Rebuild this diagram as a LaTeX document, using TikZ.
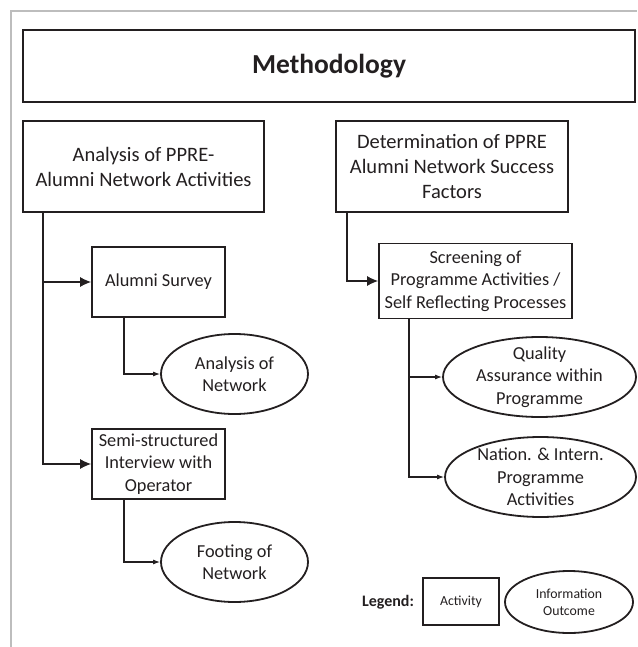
\documentclass[tikz,border=0pt]{standalone}
\usepackage{fontspec}
\setmainfont{Carlito}
\usetikzlibrary{shapes.geometric,arrows.meta}
\definecolor{ink}{HTML}{231F20}
\definecolor{framegray}{HTML}{BDBDBD}
\begin{document}
\begin{tikzpicture}[x=1pt,y=-1pt,
  activity/.style={draw=ink, line width=1.8pt, rectangle, inner sep=0pt, align=center, text=ink},
  outcome/.style={draw=ink, line width=1.8pt, ellipse, inner sep=0pt},
  otext/.style={align=center, text=ink, inner sep=0pt, font=\fontsize{18.3}{22.3}\selectfont},
  big/.style={font=\fontsize{20.5}{25}\selectfont},
  small/.style={font=\fontsize{18.3}{22.3}\selectfont},
  conn/.style={draw=ink, line width=1.1pt},
  bigarrow/.style={-{Latex[length=11pt,width=10pt]}},
  smallarrow/.style={-{Latex[length=7pt,width=5pt]}}]
\useasboundingbox (0,0) rectangle (637,647);
% outer frame
\draw[framegray, line width=2pt] (11,647) -- (11,11) -- (637,11);
% title
\node[activity, minimum width=612pt, minimum height=72pt, font=\fontsize{27.5}{33}\selectfont\bfseries] (meth) at (329,66) {Methodology};
% top boxes
\node[activity, big, minimum width=241pt, minimum height=91pt] (ana) at (143.5,166.5) {Analysis of PPRE-\\Alumni Network Activities};
\node[activity, big, minimum width=232pt, minimum height=91pt] (det) at (452,166.5) {Determination of PPRE\\Alumni Network Success\\Factors};
% left branch
\node[activity, small, minimum width=133pt, minimum height=70pt] (surv) at (158.5,282) {Alumni Survey};
\node[outcome, minimum width=147pt, minimum height=80pt] (anet) at (234.5,374) {};
\node[otext] (anett) at (234.5,374) {Analysis of\\Network};
\node[activity, small, minimum width=133pt, minimum height=70pt] (semi) at (158.5,464) {Semi-structured\\Interview with\\Operator};
\node[outcome, minimum width=147pt, minimum height=80pt] (foot) at (234.5,562) {};
\node[otext] (foott) at (234.5,562) {Footing of\\Network};
% right branch
\node[activity, small, minimum width=193pt, minimum height=75pt] (scr) at (475.5,281) {Screening of\\Programme Activities /\\Self Reflecting Processes};
\node[outcome, minimum width=193pt, minimum height=80pt] (qual) at (539.5,377) {};
\node[otext] (qualt) at (539.5,377) {Quality\\Assurance within\\Programme};
\node[outcome, minimum width=191pt, minimum height=80pt] (nat) at (540.5,477) {};
\node[otext] (natt) at (540.5,477) {Nation. \& Intern.\\Programme\\Activities};
% legend
\node[text=ink, font=\fontsize{16}{19}\selectfont\bfseries] (legt) at (388,602) {Legend:};
\node[activity, minimum width=76pt, minimum height=47pt, font=\fontsize{13.8}{16.8}\selectfont] (act) at (461,601.5) {Activity};
\node[outcome, minimum width=128pt, minimum height=62pt] (info) at (569,602) {};
\node[otext, font=\fontsize{13.8}{16.8}\selectfont] (infot) at (569,602) {Information\\Outcome};
% connector x positions
\coordinate (lx) at (43,0);
\coordinate (sx) at (124,0);
\coordinate (rx) at (347,0);
\coordinate (qx) at (409,0);
% connectors
\draw[conn,bigarrow] (ana.south -| lx) |- (surv.west);
\draw[conn,bigarrow] (ana.south -| lx) |- (semi.west);
\draw[conn,smallarrow] (surv.south -| sx) |- (anet.west);
\draw[conn,smallarrow] (semi.south -| sx) |- (foot.west);
\draw[conn,bigarrow] (det.south -| rx) |- (scr.west);
\draw[conn,smallarrow] (scr.south -| qx) |- (qual.west);
\draw[conn,smallarrow] (scr.south -| qx) |- (nat.west);
\end{tikzpicture}
\end{document}
